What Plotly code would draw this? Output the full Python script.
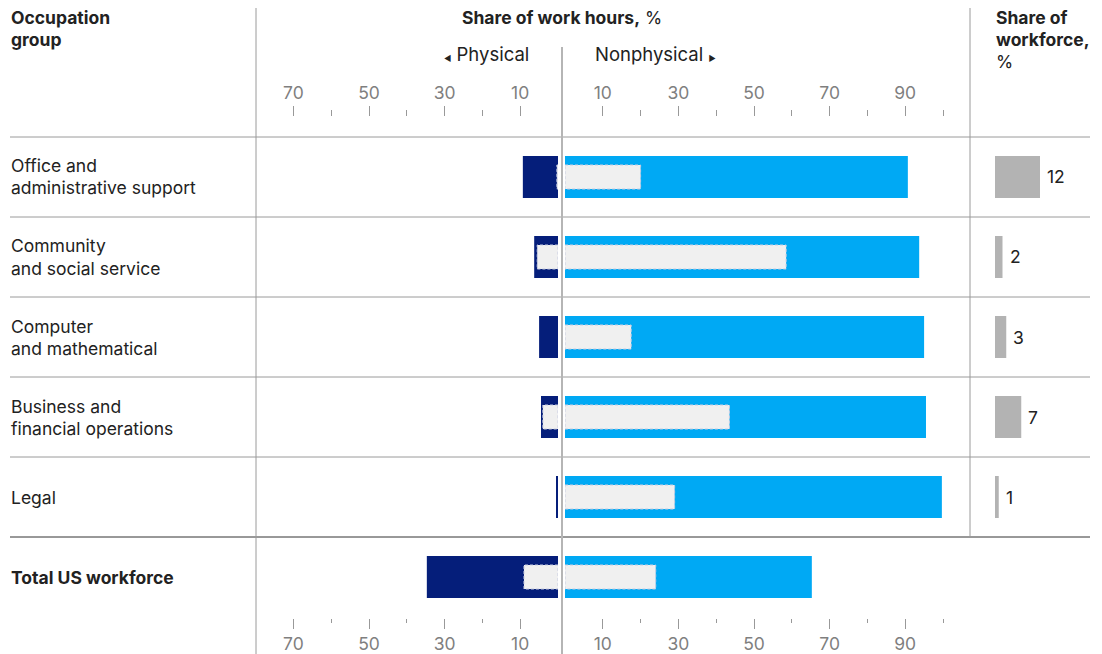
import plotly.graph_objects as go

# ---------------- data ----------------
categories = [
    ["Office and", "administrative support"],
    ["Community", "and social service"],
    ["Computer", "and mathematical"],
    ["Business and", "financial operations"],
    ["Legal"],
    ["Total US workforce"],
]
physical = [9.3, 6.3, 5.0, 4.5, 0.3, 34.7]
physical_auto = [0.3, 5.5, 0.0, 4.0, 0.0, 9.0]
nonphysical = [90.7, 93.7, 95.0, 95.5, 99.7, 65.3]
nonphysical_auto = [20.0, 58.5, 17.5, 43.5, 29.0, 24.0]
workforce = [12, 2, 3, 7, 1]

phys_major = [10, 30, 50, 70]
phys_minor = [20, 40, 60]
nonphys_major = [10, 30, 50, 70, 90]
nonphys_minor = [20, 40, 60, 80, 100]

# ---------------- styling ----------------
OFF = 8                      # page body margin
W, H = 1102 - OFF, 654 - OFF  # figure size
NAVY = "#051e7a"
BLUE = "#00a9f4"
INNER = "#f0f0f0"
WFGRAY = "#b3b3b3"
TXT = "#222222"
TICKTXT = "#7f7f7f"
FONT = "Inter"
FS = 17.5


def px(x):
    return (x - OFF) / W


def py(y):
    return 1 - (y - OFF) / H


rows = list(range(len(categories)))
BW = 0.525
IW = 0.15

fig = go.Figure()

fig.add_trace(go.Bar(y=rows, x=physical, orientation="h", width=BW,
                     marker=dict(color=NAVY, line=dict(width=0)),
                     xaxis="x", yaxis="y", hoverinfo="skip"))
fig.add_trace(go.Bar(y=rows, x=nonphysical, orientation="h", width=BW,
                     marker=dict(color=BLUE, line=dict(width=0)),
                     xaxis="x2", yaxis="y", hoverinfo="skip"))


def inner_poly(vals):
    xs, ys = [], []
    for i, v in enumerate(vals):
        if v <= 0:
            continue
        xs += [0, v, v, 0, 0, None]
        ys += [i - IW, i - IW, i + IW, i + IW, i - IW, None]
    return xs, ys


for vals, ax in [(physical_auto, "x"), (nonphysical_auto, "x2")]:
    xs, ys = inner_poly(vals)
    fig.add_trace(go.Scatter(x=xs, y=ys, mode="lines", fill="toself",
                             fillcolor=INNER,
                             line=dict(color="#c6cbe0", width=1, dash="3px,2px"),
                             xaxis=ax, yaxis="y", hoverinfo="skip"))

fig.add_trace(go.Bar(y=rows[:len(workforce)], x=workforce, orientation="h", width=BW,
                     marker=dict(color=WFGRAY, line=dict(width=0)),
                     xaxis="x3", yaxis="y", hoverinfo="skip"))

# empty traces so the top tick axes exist
fig.add_trace(go.Scatter(x=[None], y=[None], xaxis="x4", yaxis="y", hoverinfo="skip"))
fig.add_trace(go.Scatter(x=[None], y=[None], xaxis="x5", yaxis="y", hoverinfo="skip"))

phys_dom = [px(256), px(558)]
phys_rng = [(558 - 256) / 3.78, 0]
non_dom = [px(565), px(970)]
non_rng = [0, (970 - 565) / 3.78]

tickfont = dict(family=FONT, size=FS, color=TICKTXT)


def tick_axis(dom, rng, major, minor, side, pos, minorlen, overlaying=None):
    d = dict(domain=dom, range=rng, anchor="free", position=pos, side=side,
             tickmode="array", tickvals=major, ticks="outside", ticklen=10,
             tickwidth=1, tickcolor="#999999", showgrid=False, zeroline=False,
             showline=False, tickfont=tickfont, fixedrange=True,
             minor=dict(tickmode="array", tickvals=minor, ticks="outside",
                        ticklen=minorlen, tickwidth=1, tickcolor="#999999",
                        showgrid=False))
    if overlaying:
        d["overlaying"] = overlaying
    return d


fig.update_layout(
    width=W, height=H,
    margin=dict(l=0, r=0, t=0, b=0),
    paper_bgcolor="white", plot_bgcolor="rgba(0,0,0,0)",
    showlegend=False, barmode="overlay",
    font=dict(family=FONT, size=FS, color=TXT),
    xaxis=tick_axis(phys_dom, phys_rng, phys_major, phys_minor, "bottom", py(618), 4),
    xaxis2=tick_axis(non_dom, non_rng, nonphys_major, nonphys_minor, "bottom", py(618), 4),
    xaxis4=tick_axis(phys_dom, phys_rng, phys_major, phys_minor, "top", py(116), 6, "x"),
    xaxis5=tick_axis(non_dom, non_rng, nonphys_major, nonphys_minor, "top", py(116), 6, "x2"),
    xaxis3=dict(domain=[px(995), px(1090)], range=[0, 95 / 3.75], visible=False,
                anchor="y", fixedrange=True),
    yaxis=dict(domain=[py(617), py(137)], range=[5.5, -0.5], visible=False,
               fixedrange=True),
)

shapes = []
for yy, col in [(137, "#9a9a9a"), (217, "#9a9a9a"), (297, "#9a9a9a"),
                (377, "#9a9a9a"), (457, "#9a9a9a"), (537, "#333333")]:
    shapes.append(dict(type="line", xref="paper", yref="paper",
                       x0=px(10), x1=px(1090), y0=py(yy), y1=py(yy),
                       line=dict(color=col, width=1)))
shapes.append(dict(type="line", xref="paper", yref="paper", x0=px(256), x1=px(256),
                   y0=py(8), y1=py(654), line=dict(color="#9a9a9a", width=1)))
shapes.append(dict(type="line", xref="paper", yref="paper", x0=px(970), x1=px(970),
                   y0=py(8), y1=py(537), line=dict(color="#9a9a9a", width=1)))
shapes.append(dict(type="line", xref="paper", yref="paper", x0=px(562), x1=px(562),
                   y0=py(47), y1=py(654), line=dict(color="#b5b5b5", width=2)))
fig.update_layout(shapes=shapes)

ann = []


def text(x, y, s, xanchor="left", size=FS, color=TXT):
    ann.append(dict(xref="paper", yref="paper", x=px(x), y=py(y), text=s,
                    showarrow=False, xanchor=xanchor, yanchor="middle",
                    font=dict(family=FONT, size=size, color=color)))


text(9, 17, "<b>Occupation</b>")
text(9, 39, "<b>group</b>")
text(562, 17, "<b>Share of work hours,</b> %", xanchor="center")
text(531, 54, "<span style='font-size:8px'>◀</span> Physical", xanchor="right", size=18.5)
text(593, 54, "Nonphysical <span style='font-size:8px'>▶</span>", xanchor="left", size=18.5)
text(994, 17, "<b>Share of</b>")
text(994, 39, "<b>workforce,</b>")
text(994, 61, "%")

for i, lines in enumerate(categories):
    bold = i == len(categories) - 1
    n = len(lines)
    for j, ln in enumerate(lines):
        shift = (n - 1) * 11 - j * 22
        ann.append(dict(xref="paper", yref="y", x=px(9), y=i, yshift=shift,
                        text=f"<b>{ln}</b>" if bold else ln, showarrow=False,
                        xanchor="left", yanchor="middle",
                        font=dict(family=FONT, size=FS, color=TXT)))

for i, v in enumerate(workforce):
    ann.append(dict(xref="x3", yref="y", x=v, y=i, xshift=5, text=str(v),
                    showarrow=False, xanchor="left", yanchor="middle",
                    font=dict(family=FONT, size=FS, color=TXT)))

fig.update_layout(annotations=ann)

fig.write_html("out.html")
